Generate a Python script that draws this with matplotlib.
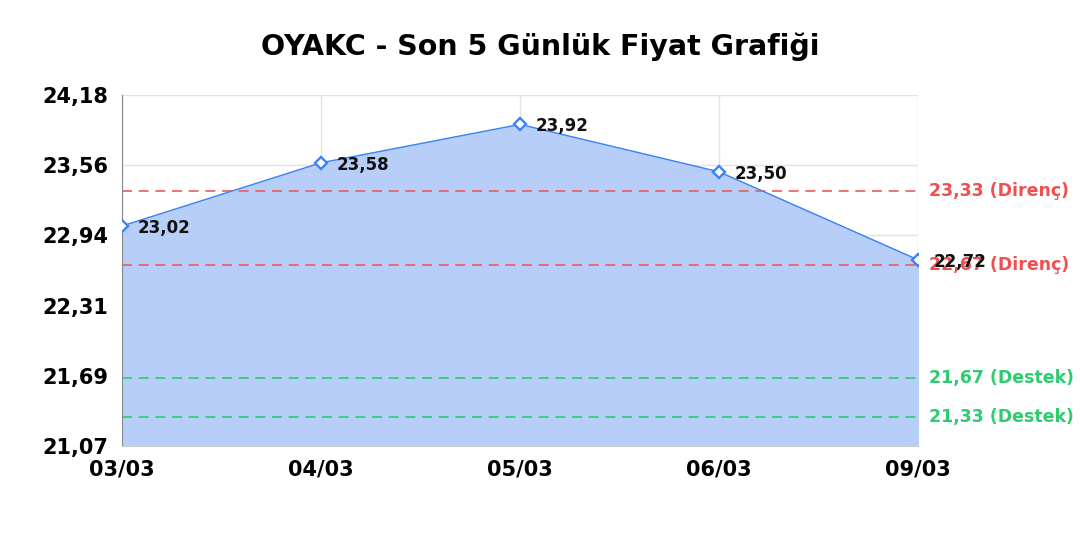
import matplotlib
matplotlib.use('Agg')
import matplotlib.pyplot as plt
import numpy as np

dates = ['03/03', '04/03', '05/03', '06/03', '09/03']
prices = [23.02, 23.58, 23.92, 23.50, 22.72]
resistance = [23.33, 22.67]
support = [21.67, 21.33]
y_ticks = [21.07, 21.69, 22.31, 22.94, 23.56, 24.18]

plt.rcParams['font.family'] = ['DejaVu Sans']

fig = plt.figure(figsize=(10.8, 5.4), dpi=100)
ax = fig.add_axes([0.113, 0.174, 0.737, 0.650])

x = np.arange(len(dates))
ax.fill_between(x, prices, y_ticks[0], color='#b7cff8', zorder=1)
ax.plot(x, prices, color='#3b82f6', lw=1, zorder=3)
ax.plot(x, prices, ls='none', marker='D', ms=6.5, mfc='white', mec='#3b82f6', mew=1.7, zorder=4)

for xi, p in zip(x, prices):
    ax.annotate(f'{p:.2f}'.replace('.', ','), (xi, p), xytext=(11, -1.5), textcoords='offset points',
                fontsize=12, fontweight='bold', color='#111111', va='center', ha='left', zorder=5)

for r in resistance:
    ax.axhline(r, color='#ef5b5b', ls=(0, (6, 4)), lw=1.2, zorder=2)
    ax.text(1.014, r, f'{r:.2f} (Direnç)'.replace('.', ','), transform=ax.get_yaxis_transform(),
            color='#ef4f4f', fontsize=12.5, fontweight='bold', va='center', ha='left')
for s in support:
    ax.axhline(s, color='#2ecc71', ls=(0, (6, 4)), lw=1.2, zorder=2)
    ax.text(1.014, s, f'{s:.2f} (Destek)'.replace('.', ','), transform=ax.get_yaxis_transform(),
            color='#2ecc71', fontsize=12.5, fontweight='bold', va='center', ha='left')

ax.set_xlim(0, len(dates) - 1)
ax.set_ylim(y_ticks[0], y_ticks[-1])
ax.set_xticks(x)
ax.set_xticklabels(dates, fontsize=15, fontweight='bold')
ax.set_yticks(y_ticks)
ax.set_yticklabels([f'{v:.2f}'.replace('.', ',') for v in y_ticks], fontsize=15, fontweight='bold')
ax.tick_params(length=0, pad=10)
ax.grid(True, color='#e3e3e3', lw=1, zorder=0)
ax.set_axisbelow(True)
for side in ['top', 'right']:
    ax.spines[side].set_visible(False)
ax.spines['left'].set_color('#888888')
ax.spines['bottom'].set_color('#cccccc')

fig.suptitle('OYAKC - Son 5 Günlük Fiyat Grafiği', fontsize=20.5, fontweight='bold', y=0.94)

plt.savefig('out.png', dpi=100)
